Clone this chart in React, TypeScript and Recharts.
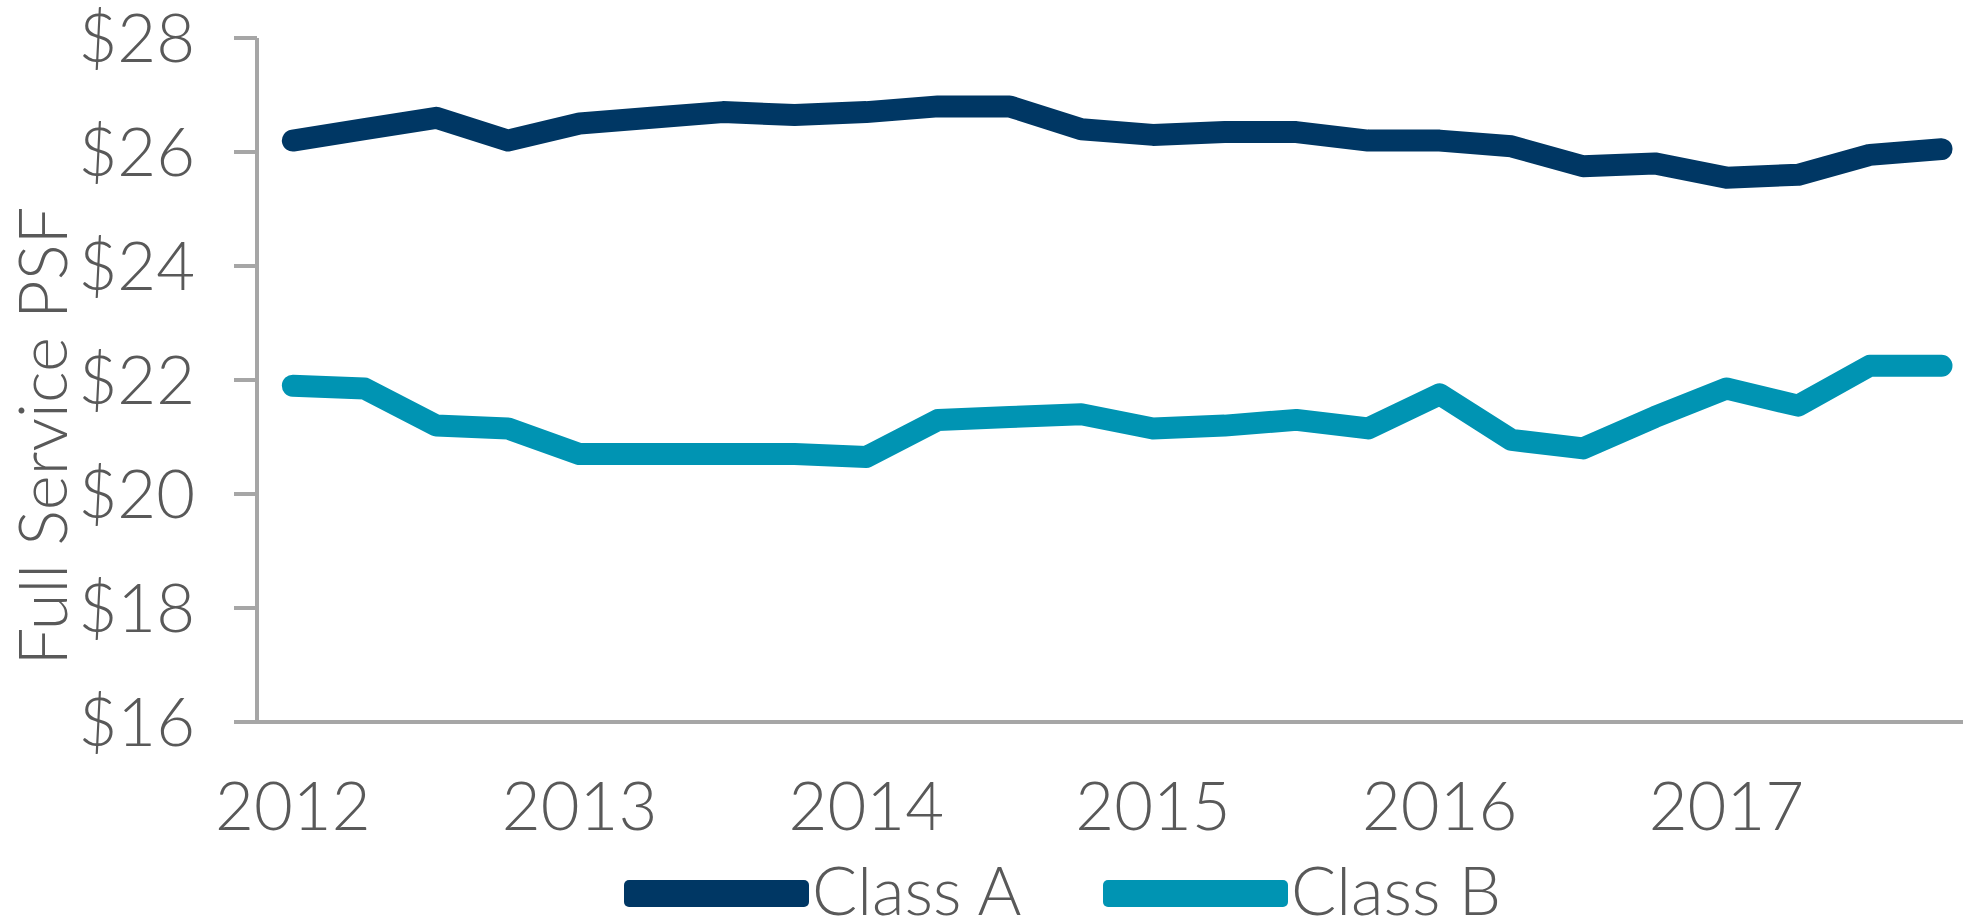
import { LineChart, Line, XAxis, YAxis, Legend } from "recharts";

const years = ["2012", "2013", "2014", "2015", "2016", "2017"];
const quarters = years.flatMap((y) => ["Q1", "Q2", "Q3", "Q4"].map((q) => `${q} ${y}`));

const classA = [
    26.2, 26.4, 26.6, 26.2, 26.5, 26.6, 26.7, 26.65,
    26.7, 26.8, 26.8, 26.4, 26.3, 26.35, 26.35, 26.2,
    26.2, 26.1, 25.75, 25.8, 25.55, 25.6, 25.95, 26.05,
];
const classB = [
    21.9, 21.85, 21.2, 21.15, 20.7, 20.7, 20.7, 20.7,
    20.65, 21.3, 21.35, 21.4, 21.15, 21.2, 21.3, 21.15,
    21.75, 20.95, 20.8, 21.35, 21.85, 21.55, 22.25, 22.25,
];
const yTicks = [16, 18, 20, 22, 24, 26, 28];

const data = quarters.map((q, i) => ({ i, q, a: classA[i], b: classB[i] }));

// ticks sit between quarters, labels sit on the first quarter of each year
const boundaryTicks = years.map((_, k) => k * 4 - 0.5);
const yearTicks = years.map((_, k) => k * 4);

const NAVY = "#003764";
const TEAL = "#0094b3";
const GREY = "#a6a6a6";
const TEXT = "#595959";
const FONT = "Lato, 'Liberation Sans', sans-serif";

const textStyle = { fontFamily: FONT, fontSize: 67, fontWeight: 300, fill: TEXT };

const renderLegend = (props: any) => {
    const { payload } = props;
    return (
        <svg width={1963} height={80} style={{ display: "block", overflow: "visible" }}>
            {payload.map((p: any, idx: number) => {
                const x = 624 + idx * 479;
                return (
                    <g key={p.value}>
                        <rect x={x} y={39} width={185} height={27} rx={5} fill={p.color} />
                        <text x={x + 188} y={74} {...textStyle}>{p.value}</text>
                    </g>
                );
            })}
        </svg>
    );
};

const renderYLabel = (props: any) => {
    const { viewBox } = props;
    const x = 67;
    const y = viewBox.y + viewBox.height / 2 + 56;
    return (
        <text x={x} y={y} textAnchor="middle" transform={`rotate(-90, ${x}, ${y})`} {...textStyle}>
            Full Service PSF
        </text>
    );
};

export default function App() {
    return (
        <div>
            <style>{`body{margin:0;background:#fff}`}</style>
            <LineChart
                width={1963}
                height={921}
                data={data}
                margin={{ top: 38, right: 0, left: 0, bottom: 0 }}
            >
                <XAxis
                    dataKey="i"
                    type="number"
                    domain={[-0.5, 23.3]}
                    allowDataOverflow
                    ticks={boundaryTicks}
                    interval={0}
                    tick={false}
                    tickSize={26}
                    height={30}
                    axisLine={{ stroke: GREY, strokeWidth: 4 }}
                    tickLine={{ stroke: GREY, strokeWidth: 4 }}
                />
                <XAxis
                    xAxisId="years"
                    dataKey="i"
                    type="number"
                    domain={[-0.5, 23.3]}
                    allowDataOverflow
                    ticks={yearTicks}
                    interval={0}
                    tickFormatter={(v: number) => years[v / 4]}
                    tick={textStyle}
                    tickSize={0}
                    tickMargin={30}
                    height={89}
                    axisLine={false}
                    tickLine={false}
                />
                <YAxis
                    type="number"
                    domain={[16, 28]}
                    ticks={yTicks}
                    interval={0}
                    width={257}
                    tickSize={23}
                    tickMargin={39}
                    tickFormatter={(v: number) => `$${v}`}
                    tick={textStyle}
                    axisLine={{ stroke: GREY, strokeWidth: 4 }}
                    tickLine={{ stroke: GREY, strokeWidth: 4 }}
                    label={{ content: renderYLabel }}
                />
                <Legend
                    verticalAlign="bottom"
                    content={renderLegend}
                    wrapperStyle={{ left: 0, bottom: 0, width: 1963, height: 80 }}
                />
                <Line
                    name="Class A"
                    dataKey="a"
                    type="linear"
                    stroke={NAVY}
                    strokeWidth={22}
                    strokeLinecap="round"
                    strokeLinejoin="round"
                    dot={false}
                    activeDot={false}
                    isAnimationActive={false}
                />
                <Line
                    name="Class B"
                    dataKey="b"
                    type="linear"
                    stroke={TEAL}
                    strokeWidth={22}
                    strokeLinecap="round"
                    strokeLinejoin="round"
                    dot={false}
                    activeDot={false}
                    isAnimationActive={false}
                />
            </LineChart>
        </div>
    );
}
